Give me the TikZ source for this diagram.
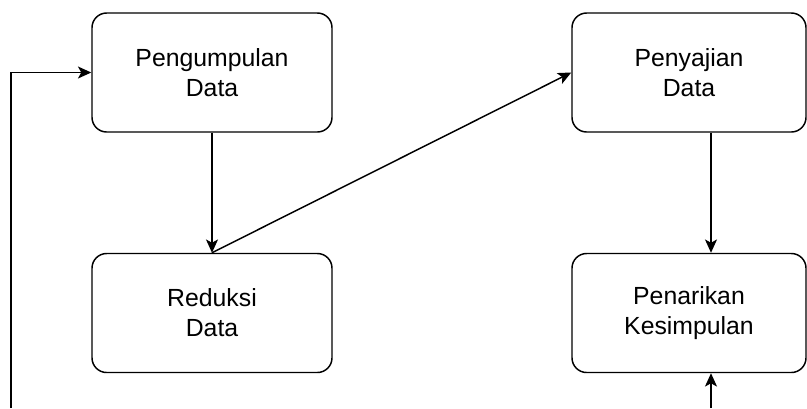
\documentclass[tikz,border=0pt]{standalone}
\usepackage{fontspec}
\setmainfont{Liberation Sans}
\usetikzlibrary{arrows.meta}
\begin{document}
\begin{tikzpicture}[x=0.75pt,y=-0.75pt,
  stage/.style={draw, line width=1.1pt, rounded corners=11pt,
    minimum height=89.25pt, align=center, inner sep=0pt,
    font=\fontsize{18.6}{22.5}\selectfont},
  leftstage/.style={stage, minimum width=180pt},
  rightstage/.style={stage, minimum width=175.5pt},
  flow/.style={line width=1.1pt, -{Stealth[length=10pt,width=9pt,inset=2.5pt]}}]
\useasboundingbox (0,0) rectangle (807,408);

% stages of the analysis
\node[leftstage]  (collect)  at (212,72.5)  {Pengumpulan\\Data};
\node[leftstage]  (reduce)   at (212,313)   {Reduksi\\Data};
\node[rightstage] (present)  at (689,72.5)  {Penyajian\\Data};
\node[rightstage] (conclude) at (689,313)   {Penarikan\\Kesimpulan};

% free ends and the offset column of the right-hand connectors
\coordinate (rightcol) at (711,0);
\coordinate (loopfoot) at (11,408);
\coordinate (inflow)   at (711,408);

% connectors
\draw[flow] (collect.south) -- (reduce.north);
\draw[flow] (reduce.north) -- (present.west);
\draw[flow] (present.south -| rightcol) -- (conclude.north -| rightcol);
\draw[flow] (loopfoot) |- (collect.west);
\draw[flow] (inflow) -- (conclude.south -| inflow);
\end{tikzpicture}
\end{document}
